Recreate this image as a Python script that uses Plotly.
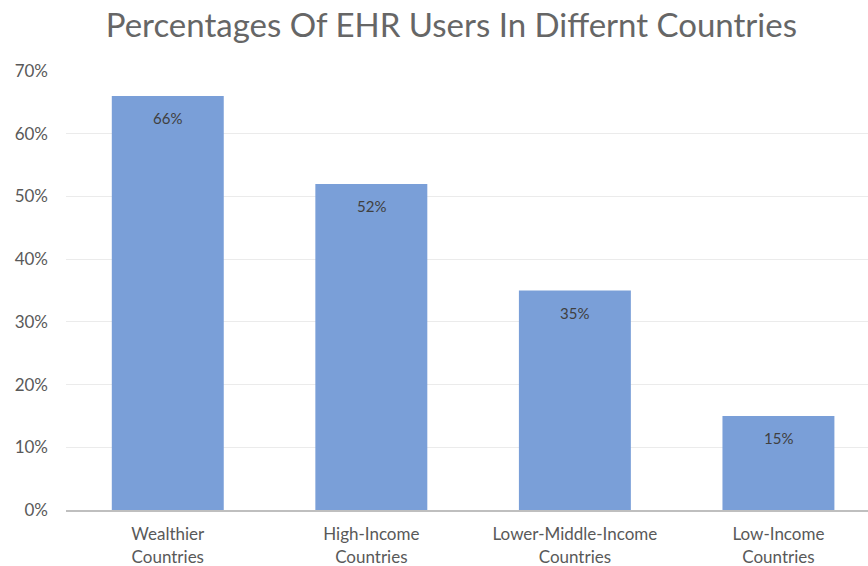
import plotly.graph_objects as go

categories = ["Wealthier<br>Countries", "High-Income<br>Countries",
              "Lower-Middle-Income<br>Countries", "Low-Income<br>Countries"]
values = [0.66, 0.52, 0.35, 0.15]
value_labels = ["66%", "52%", "35%", "15%"]
title_text = "Percentages Of EHR Users In Differnt Countries"

FONT = "Lato"

fig = go.Figure()
fig.add_trace(go.Bar(
    x=list(range(len(categories))),
    y=values,
    width=0.55,
    marker=dict(color="#7A9FD8", line=dict(width=0)),
    hoverinfo="skip",
))

for i, (v, lab) in enumerate(zip(values, value_labels)):
    fig.add_annotation(x=i, y=v, text=lab, showarrow=False, yanchor="top",
                       yshift=-11, font=dict(family=FONT, size=15, color="#404040"))

fig.update_layout(
    width=868, height=566,
    margin=dict(l=66, r=0, t=71, b=56),
    paper_bgcolor="white", plot_bgcolor="white",
    showlegend=False,
    title=dict(text=title_text, x=0.52, xref="container", xanchor="center",
               y=0.955, yanchor="middle",
               font=dict(family=FONT, size=33, color="#666666")),
    bargap=0.45,
)
fig.update_xaxes(
    range=[-0.5, 3.44], automargin=False,
    tickmode="array", tickvals=list(range(len(categories))), ticktext=categories,
    tickfont=dict(family=FONT, size=17, color="#595959"),
    showgrid=False, zeroline=False,
    showline=True, linecolor="#BFBFBF", linewidth=2,
    ticks="", ticklabelstandoff=8,
)
fig.update_yaxes(
    range=[0, 0.7], dtick=0.1, tickformat=".0%", automargin=False,
    tickfont=dict(family=FONT, size=17, color="#595959"),
    showgrid=True, gridcolor="#EBEBEB", gridwidth=1,
    zeroline=False, showline=False, ticks="", ticklabelstandoff=17,
)

fig.write_html("out.html")
